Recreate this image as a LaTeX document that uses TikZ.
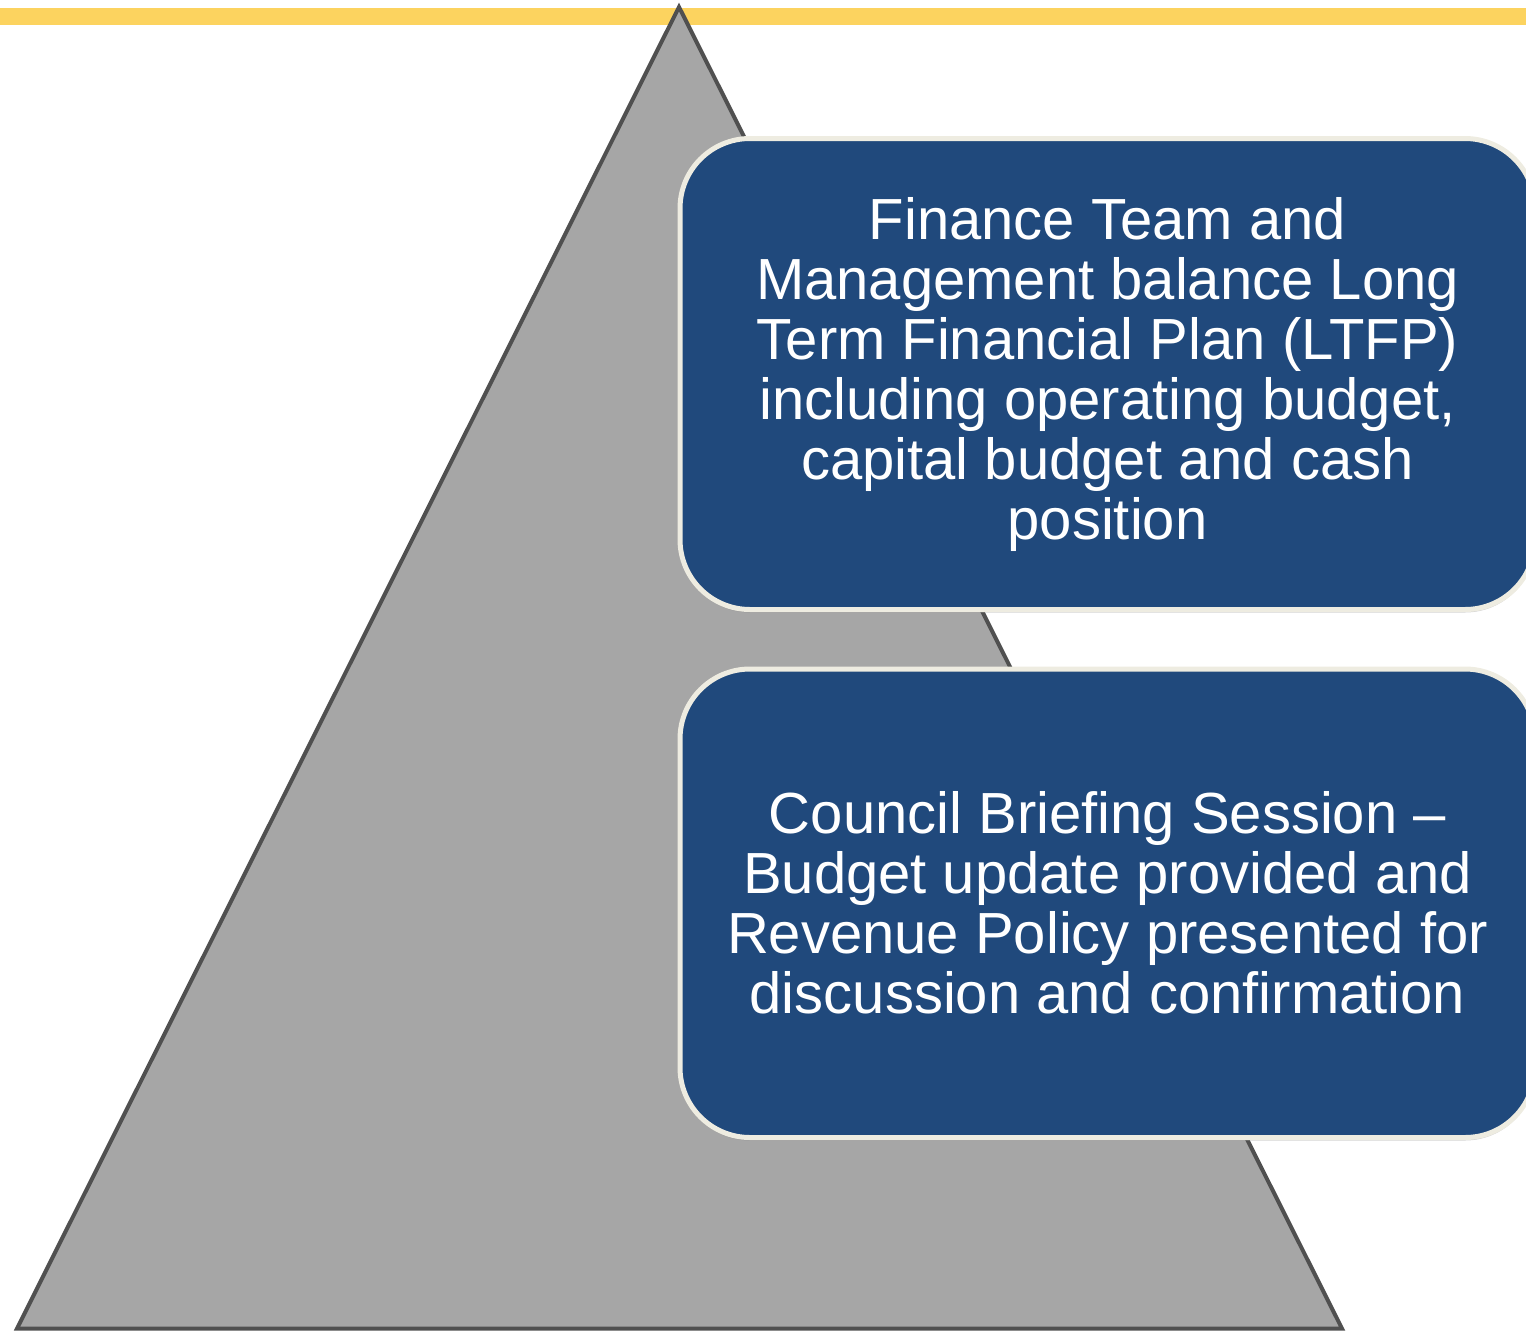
\documentclass[tikz,border=0pt]{standalone}
\usepackage{fontspec}
\setmainfont{Liberation Sans}
\usetikzlibrary{positioning,shadows}

\definecolor{goldbar}{HTML}{FCD35F}
\definecolor{pyrgray}{HTML}{A6A6A6}
\definecolor{pyredge}{HTML}{505050}
\definecolor{stepblue}{HTML}{20497C}
\definecolor{stepedge}{HTML}{EEECE1}

\begin{document}
\begin{tikzpicture}[x=1pt,y=-1pt,every node/.style={font=\fontsize{58}{60}\selectfont}]
\useasboundingbox (0,0) rectangle (1526,1331);
\clip (0,0) rectangle (1526,1331);

% top rule and pyramid
\fill[goldbar] (0,8) rectangle (1526,25);
\draw[pyredge,fill=pyrgray,line width=4pt,line join=miter] (679,7) -- (1342,1328.5) -- (17,1328.5) -- cycle;

% the two stages
\node[draw=stepedge,fill=stepblue,line width=5pt,rounded corners=70pt,text=white,align=center,minimum width=855pt,minimum height=471pt,inner sep=0pt,drop shadow={opacity=0.35,shadow xshift=0pt,shadow yshift=-3pt}] (ltfp) at (1107.5,374) {Finance Team and\\Management balance Long\\Term Financial Plan (LTFP)\\including operating budget,\\capital budget and cash\\position};
\node[draw=stepedge,fill=stepblue,line width=5pt,rounded corners=70pt,text=white,align=center,minimum width=855pt,minimum height=468.5pt,inner sep=0pt,drop shadow={opacity=0.35,shadow xshift=0pt,shadow yshift=-3pt}] (brief) at (1107.5,903.25) {Council Briefing Session –\\Budget update provided and\\Revenue Policy presented for\\discussion and confirmation};
\end{tikzpicture}
\end{document}
